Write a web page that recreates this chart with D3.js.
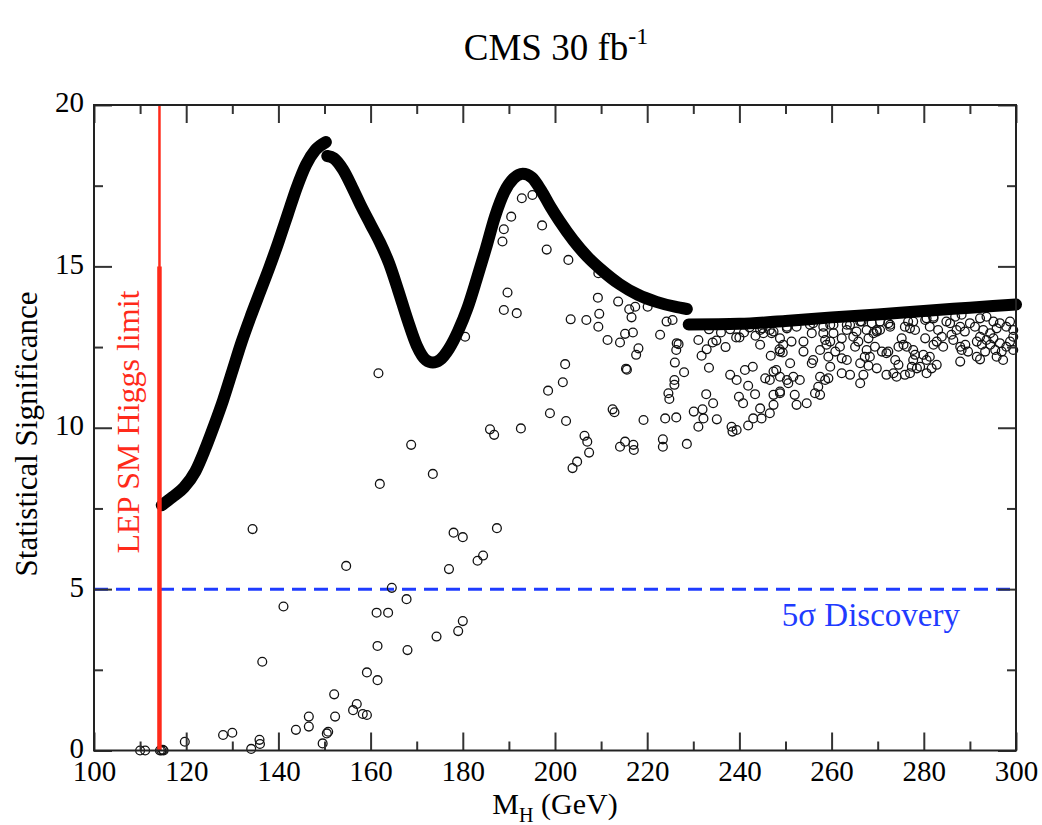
<!DOCTYPE html>
<html>
<head>
<meta charset="utf-8">
<script src="https://cdn.jsdelivr.net/npm/d3@7"></script>
<style>
  body { margin: 0; background: #fff; }
  svg { display: block; }
  text { font-family: "Liberation Serif", "DejaVu Serif", serif; }
</style>
</head>
<body>
<svg width="1042" height="825"></svg>
<script>
// upper envelope (drawn as a thick band of points in the original)
const envelopeRise = [[114.7, 7.6], [117.0, 7.85], [119.5, 8.15], [122.0, 8.65], [124.0, 9.3],
    [126.0, 10.05], [128.0, 10.85], [130.0, 11.75], [132.0, 12.65], [134.0, 13.45], [136.0, 14.2],
    [138.0, 14.95], [140.0, 15.75], [142.0, 16.6], [144.0, 17.45], [146.0, 18.15], [148.0, 18.6],
    [150.3, 18.85]];
const envelopeMid = [[150.6, 18.42], [152.0, 18.35], [154.0, 18.0], [156.0, 17.45], [158.0, 16.85],
    [160.0, 16.3], [162.0, 15.75], [164.0, 15.1], [166.0, 14.25], [168.0, 13.35], [170.0, 12.55],
    [172.0, 12.1], [173.5, 12.02], [175.0, 12.1], [177.0, 12.45], [179.0, 13.0], [181.0, 13.7],
    [183.0, 14.6], [185.0, 15.55], [187.0, 16.55], [189.0, 17.3], [191.0, 17.72], [193.0, 17.87],
    [195.0, 17.75], [197.0, 17.35], [199.0, 16.85], [201.0, 16.4], [204.0, 15.8], [207.0, 15.3],
    [210.0, 14.9], [214.0, 14.45], [218.0, 14.12], [222.0, 13.9], [226.0, 13.75], [228.6, 13.68]];
const envelopeFlat = [[229.0, 13.2], [240.0, 13.22], [250.0, 13.31], [260.0, 13.42], [270.0, 13.51],
    [280.0, 13.62], [290.0, 13.72], [300.0, 13.82]];

// individual parameter points
const pointsLow = [[110.0, 0.0], [111.1, 0.0], [114.3, 0.0], [114.6, 0.0], [114.9, 0.02], [115.1, 0.0],
    [119.7, 0.27], [128.0, 0.48], [130.0, 0.55], [134.1, 0.05], [135.9, 0.33], [136.0, 0.2],
    [136.5, 2.75], [141.1, 4.46], [143.8, 0.64], [146.6, 1.05], [146.6, 0.74], [149.6, 0.22],
    [150.5, 0.53], [150.8, 0.58], [152.1, 1.74], [152.3, 1.05], [154.7, 5.72], [156.2, 1.25],
    [157.0, 1.44], [158.3, 1.13], [159.2, 1.1], [159.2, 2.42], [161.5, 2.18], [161.3, 4.27],
    [163.8, 4.27], [161.5, 3.24], [164.6, 5.04], [167.8, 4.69], [168.0, 3.11], [174.3, 3.53],
    [177.0, 5.62], [179.0, 3.7], [180.0, 4.01], [183.2, 5.88], [184.4, 6.04]];
const pointsMid = [[161.7, 11.69], [168.8, 9.47], [173.5, 8.57], [162.0, 8.26], [134.4, 6.86],
    [185.9, 9.95], [186.8, 9.78], [178.0, 6.75], [180.0, 6.61], [187.4, 6.89], [180.5, 12.82],
    [192.8, 17.11], [195.1, 17.21], [190.5, 16.54], [188.9, 16.15], [188.6, 15.77], [197.2, 16.27],
    [198.2, 15.52], [202.9, 15.2], [189.7, 14.19], [188.9, 13.65], [191.7, 13.55], [209.3, 14.03],
    [203.4, 13.36], [206.8, 13.34], [209.6, 13.53], [209.4, 13.13], [213.7, 13.91], [216.1, 13.67],
    [217.4, 13.75], [216.6, 13.42], [220.1, 13.75], [215.2, 12.91], [216.9, 12.95], [211.4, 12.72],
    [214.1, 12.64], [218.1, 12.46], [217.6, 12.26], [222.8, 12.88], [224.2, 13.29], [225.5, 13.34],
    [215.4, 11.83], [215.6, 11.8], [202.2, 11.97], [201.7, 11.41], [198.5, 11.15], [198.9, 10.45],
    [202.4, 10.21], [212.5, 10.57], [212.9, 10.48], [219.2, 10.24], [223.9, 10.29], [226.3, 10.32],
    [224.6, 11.07], [224.8, 10.89], [225.9, 11.48], [226.0, 12.02], [226.3, 12.41], [226.4, 12.62],
    [192.6, 9.98], [206.4, 9.75], [207.0, 9.57], [207.4, 9.23], [214.1, 9.41], [215.2, 9.57],
    [217.0, 9.47], [217.1, 9.31], [223.4, 9.64], [223.4, 9.41], [203.8, 8.75], [204.8, 8.95],
    [209.4, 14.79], [226.8, 12.59], [228.0, 11.72], [225.9, 11.33], [228.6, 9.5]];
const pointsHigh = [[231.1, 12.72], [232.9, 12.43], [234.2, 12.64], [231.8, 12.23], [233.4, 11.86],
    [230.1, 10.5], [232.0, 10.57], [234.3, 10.76], [235.1, 10.26], [231.1, 10.03], [232.2, 10.29],
    [232.8, 11.04], [238.0, 11.64], [239.4, 11.48], [241.2, 11.79], [242.9, 11.89], [241.9, 11.3],
    [239.9, 10.96], [240.8, 10.76], [243.4, 11.04], [238.3, 10.03], [238.5, 9.88], [239.4, 9.93],
    [241.9, 10.07], [243.0, 10.29], [244.8, 10.29], [244.5, 10.6], [246.6, 10.45], [247.4, 10.71],
    [248.8, 11.07], [247.4, 11.02], [245.6, 11.53], [246.6, 11.48], [247.4, 11.74], [248.0, 11.79],
    [248.8, 11.58], [250.3, 11.48], [244.5, 12.57], [246.8, 12.23], [248.7, 12.43], [249.4, 12.33],
    [239.3, 12.8], [240.0, 12.8], [242.2, 13.11], [245.0, 13.08], [246.6, 13.03], [233.4, 13.05],
    [245.2, 12.93], [247.0, 12.93], [236.0, 12.95], [238.0, 13.05], [241.0, 12.95], [243.5, 12.85],
    [235.0, 12.7], [237.0, 12.5], [244.5, 13.03], [247.4, 12.98]];
const pointsTail = [[250.3, 13.13], [252.4, 13.13], [256.0, 13.24], [258.2, 13.13], [260.4, 13.19],
    [264.0, 13.19], [266.5, 13.29], [268.7, 13.24], [270.5, 13.29], [272.3, 13.24], [269.8, 12.98],
    [270.5, 13.03], [272.7, 13.13], [275.9, 13.13], [277.7, 13.29], [278.1, 13.03], [280.6, 13.39],
    [282.1, 13.39], [284.9, 13.29], [286.8, 13.44], [288.2, 13.5], [287.9, 13.13], [287.1, 13.03],
    [288.9, 12.98], [290.0, 13.24], [292.2, 13.39], [293.6, 13.44], [295.1, 13.29], [296.5, 13.24],
    [298.7, 13.29], [299.4, 13.03], [292.9, 13.03], [294.4, 12.93], [295.8, 13.08],
    [248.8, 12.77], [251.3, 12.67], [253.9, 12.67], [255.7, 12.93], [258.6, 12.72], [259.7, 12.67],
    [258.9, 12.57], [262.2, 12.77], [261.8, 12.51], [264.7, 12.82], [265.8, 12.67], [265.1, 12.51],
    [268.0, 12.77], [269.4, 12.51], [267.6, 12.41], [271.9, 12.31], [275.2, 12.77], [275.6, 12.57],
    [276.3, 12.51], [277.7, 12.41], [278.1, 12.26], [280.3, 12.77], [282.1, 12.57], [282.8, 12.67],
    [284.2, 12.51], [283.9, 12.82], [286.0, 12.88], [287.9, 12.51], [289.0, 12.57], [291.5, 12.67],
    [292.6, 12.57], [293.6, 12.72], [295.1, 12.77], [296.5, 12.62], [298.7, 12.67], [299.4, 12.41],
    [293.3, 12.36], [295.5, 12.41], [296.9, 12.36], [291.5, 12.2], [292.2, 12.12], [287.9, 12.05],
    [288.2, 12.41],
    [248.8, 12.36], [251.0, 12.0], [256.0, 12.1], [255.7, 12.0], [259.3, 12.2], [262.2, 12.15],
    [267.2, 12.2], [268.3, 12.2], [272.3, 12.36], [273.8, 12.1], [274.5, 11.95], [277.7, 12.1],
    [278.5, 11.84], [277.4, 11.89], [279.9, 12.26], [280.6, 12.1], [281.3, 12.2], [281.7, 11.84],
    [269.8, 11.84], [268.0, 11.92], [266.9, 11.64], [271.9, 11.64], [273.4, 11.69], [274.1, 11.58],
    [275.9, 11.64], [277.0, 11.69], [264.0, 11.64], [262.2, 11.69], [266.2, 11.38], [257.5, 11.58],
    [258.6, 11.48], [259.3, 11.53], [257.1, 11.27], [257.5, 11.02], [256.4, 11.07], [253.1, 11.48],
    [251.7, 11.58], [250.6, 11.38], [252.0, 11.02], [252.4, 10.71], [254.6, 10.76], [248.8, 11.12],
    [258.2, 12.93], [263.3, 13.03], [265.4, 12.98], [267.6, 13.03], [269.1, 12.93], [277.0, 13.08],
    [281.3, 13.13], [283.1, 13.03], [285.7, 13.24], [291.1, 13.13], [297.9, 13.13], [286.4, 12.72],
    [292.2, 12.82], [294.4, 12.57], [297.9, 12.51], [299.4, 12.82], [289.6, 12.36], [295.8, 12.2],
    [297.2, 12.1], [274.5, 12.51], [270.9, 12.36], [266.2, 12.0], [263.3, 12.1], [260.8, 12.36],
    [257.5, 12.41], [253.9, 12.36], [249.5, 12.57], [259.7, 11.89], [280.6, 11.69], [282.8, 11.95],
    [279.2, 11.89], [250.3, 13.08], [255.3, 13.19], [259.7, 13.19], [260.4, 12.93], [263.3, 13.19],
    [266.2, 13.29], [269.8, 13.03], [272.7, 13.19], [276.6, 13.29], [280.3, 13.34], [282.1, 13.44]];

const xMajor = [100, 120, 140, 160, 180, 200, 220, 240, 260, 280, 300];
const xMinor = [110, 130, 150, 170, 190, 210, 230, 250, 270, 290];
const yMajor = [0, 5, 10, 15, 20];
const yMinor = [2.5, 7.5, 12.5, 17.5];
const lepLimit = 114.2;
const discovery = 5;

const svg = d3.select("svg");
const plotLeft = 94, plotRight = 1016, plotTop = 105, plotBottom = 750.5;

const x = d3.scaleLinear().domain([100, 300]).range([plotLeft, plotRight]);
const y = d3.scaleLinear().domain([0, 20]).range([plotBottom, plotTop]);

// title
const title = svg.append("text")
    .attr("x", 556).attr("y", 60)
    .attr("text-anchor", "middle")
    .attr("font-size", 37);
title.append("tspan").text("CMS 30 fb");
title.append("tspan").attr("dy", -16).attr("font-size", 24).text("-1");

const plot = svg.append("g");

// 5 sigma line
plot.append("line")
    .attr("x1", x(100)).attr("x2", x(300))
    .attr("y1", y(discovery)).attr("y2", y(discovery))
    .attr("stroke", "#1f3cff").attr("stroke-width", 3)
    .attr("stroke-dasharray", "14,8");
plot.append("text")
    .attr("x", 960).attr("y", 626)
    .attr("text-anchor", "end")
    .attr("font-size", 33)
    .attr("fill", "#1f3cff")
    .text("5σ Discovery");

// scatter points
const allPoints = pointsLow.concat(pointsMid, pointsHigh, pointsTail);
plot.selectAll(".pt")
    .data(allPoints)
    .enter()
    .append("circle")
    .attr("class", "pt")
    .attr("cx", (d) => x(d[0]))
    .attr("cy", (d) => y(d[1]))
    .attr("r", 4.4)
    .attr("fill", "none")
    .attr("stroke", "#111")
    .attr("stroke-width", 1.3);

// envelope band
const line = d3.line()
    .x((d) => x(d[0]))
    .y((d) => y(d[1]))
    .curve(d3.curveMonotoneX);
[envelopeRise, envelopeMid, envelopeFlat].forEach((seg) => {
    plot.append("path")
        .attr("d", line(seg))
        .attr("fill", "none")
        .attr("stroke", "#000")
        .attr("stroke-width", 12)
        .attr("stroke-linecap", "round")
        .attr("stroke-linejoin", "round");
});

// LEP limit
plot.append("line")
    .attr("x1", x(lepLimit)).attr("x2", x(lepLimit))
    .attr("y1", y(20)).attr("y2", y(0))
    .attr("stroke", "#ff2a1a").attr("stroke-width", 2.5);
plot.append("line")
    .attr("x1", x(lepLimit)).attr("x2", x(lepLimit))
    .attr("y1", y(15)).attr("y2", y(0))
    .attr("stroke", "#ff2a1a").attr("stroke-width", 4.5);
plot.append("text")
    .attr("transform", `translate(139, 422) rotate(-90)`)
    .attr("text-anchor", "middle")
    .attr("font-size", 32)
    .attr("fill", "#ff2a1a")
    .text("LEP SM Higgs limit");

// axes: ticks point inward on all four sides
function styleAxis(g) {
    g.select(".domain").remove();
    g.selectAll(".tick line").attr("stroke", "#333").attr("stroke-width", 2);
    g.selectAll(".tick text").attr("font-family", "Liberation Serif").attr("font-size", 29).attr("fill", "#000");
}
svg.append("g").attr("transform", `translate(0,${plotBottom})`)
    .call(d3.axisBottom(x).tickValues(xMajor).tickSize(-18).tickPadding(10).tickFormat(d3.format("d")))
    .call(styleAxis);
svg.append("g").attr("transform", `translate(0,${plotBottom})`)
    .call(d3.axisBottom(x).tickValues(xMinor).tickSize(-9).tickFormat(""))
    .call(styleAxis);
svg.append("g").attr("transform", `translate(0,${plotTop})`)
    .call(d3.axisTop(x).tickValues(xMajor).tickSize(-18).tickFormat(""))
    .call(styleAxis);
svg.append("g").attr("transform", `translate(0,${plotTop})`)
    .call(d3.axisTop(x).tickValues(xMinor).tickSize(-9).tickFormat(""))
    .call(styleAxis);
svg.append("g").attr("transform", `translate(${plotLeft},0)`)
    .call(d3.axisLeft(y).tickValues(yMajor).tickSize(-18).tickPadding(10).tickFormat(d3.format("d")))
    .call(styleAxis)
    .call((g) => g.selectAll(".tick text").attr("dy", "0.24em"));
svg.append("g").attr("transform", `translate(${plotLeft},0)`)
    .call(d3.axisLeft(y).tickValues(yMinor).tickSize(-9).tickFormat(""))
    .call(styleAxis);
svg.append("g").attr("transform", `translate(${plotRight},0)`)
    .call(d3.axisRight(y).tickValues(yMajor).tickSize(-18).tickFormat(""))
    .call(styleAxis);
svg.append("g").attr("transform", `translate(${plotRight},0)`)
    .call(d3.axisRight(y).tickValues(yMinor).tickSize(-9).tickFormat(""))
    .call(styleAxis);

// frame
svg.append("rect")
    .attr("x", plotLeft).attr("y", plotTop)
    .attr("width", plotRight - plotLeft).attr("height", plotBottom - plotTop)
    .attr("fill", "none").attr("stroke", "#222").attr("stroke-width", 2);

// axis titles
const xTitle = svg.append("text")
    .attr("x", 555).attr("y", 814)
    .attr("text-anchor", "middle")
    .attr("font-size", 30);
xTitle.append("tspan").text("M");
xTitle.append("tspan").attr("dy", 8).attr("font-size", 20).text("H");
xTitle.append("tspan").attr("dy", -8).text(" (GeV)");

svg.append("text")
    .attr("transform", `translate(37, 434) rotate(-90)`)
    .attr("text-anchor", "middle")
    .attr("font-size", 31)
    .text("Statistical Significance");
</script>
</body>
</html>
